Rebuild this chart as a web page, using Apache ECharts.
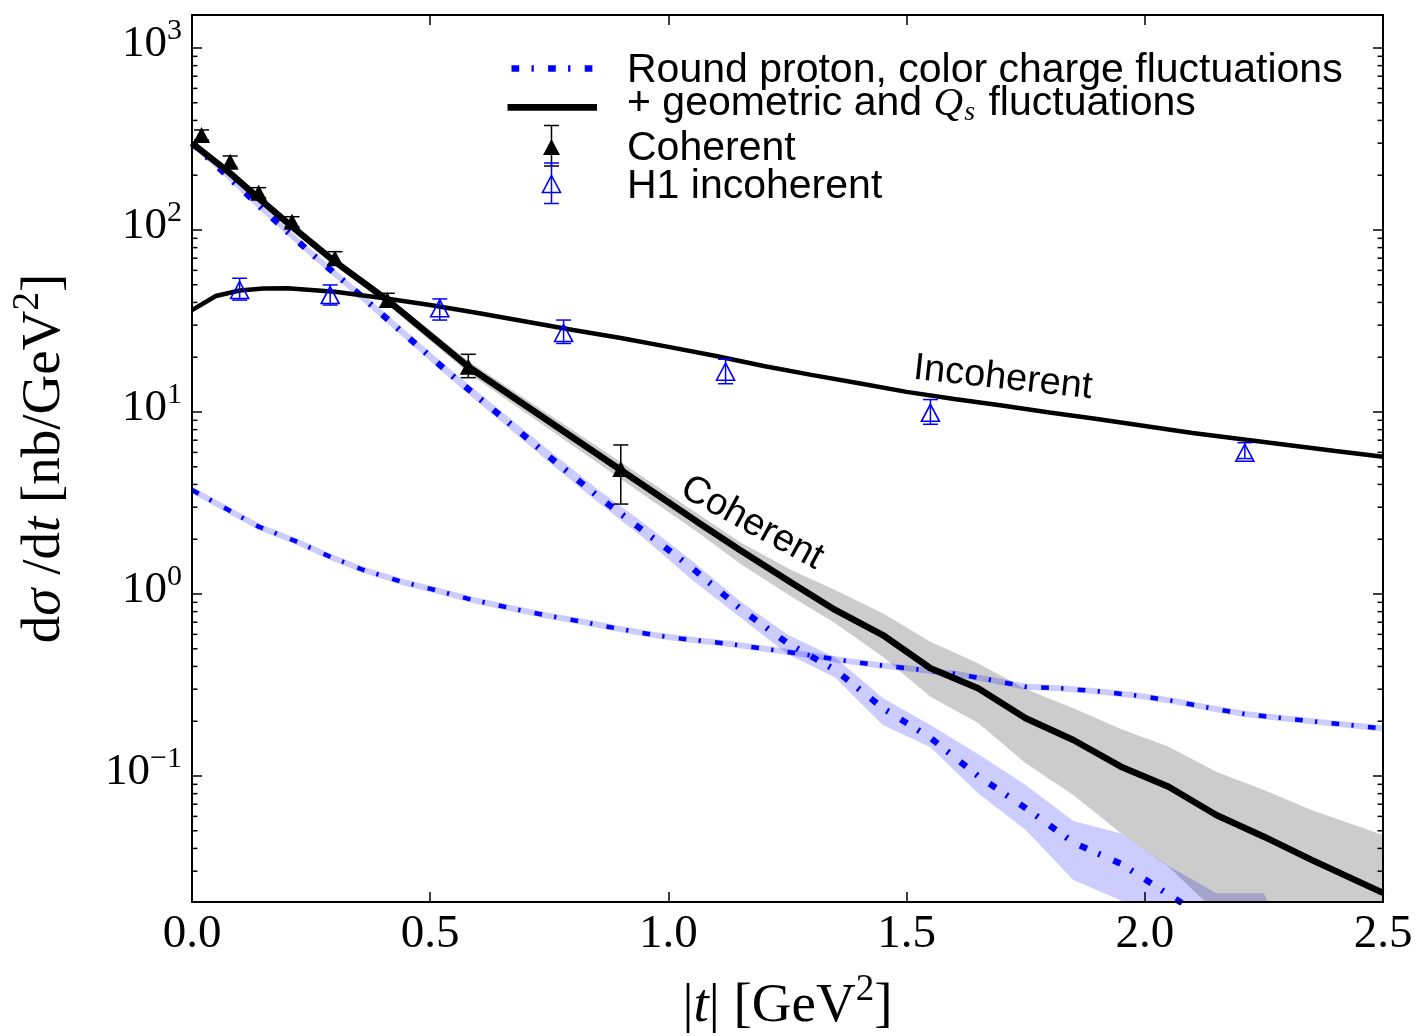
<!DOCTYPE html>
<html><head><meta charset="utf-8">
<script src="https://cdn.jsdelivr.net/npm/echarts@6/dist/echarts.min.js"></script>
<style>html,body{margin:0;padding:0;background:#fff}#c{width:1418px;height:1036px}</style>
</head><body><div id="c"></div>
<script>
// ---------------- data ----------------
const xTickLabels = ['0.0', '0.5', '1.0', '1.5', '2.0', '2.5'];
const yTickExponents = [-1, 0, 1, 2, 3];

// Coherent, geometric + Qs fluctuations (black solid) and its band (gray)
const cohTheoryT = [0, 0.08, 0.14, 0.21, 0.30, 0.41, 0.58, 0.90, 1.06, 1.15, 1.26, 1.35, 1.45, 1.55, 1.65, 1.75, 1.85, 1.95, 2.05, 2.15, 2.25, 2.35, 2.50];
const cohTheory  = [299.5, 204.9, 149.3, 104.3, 66.97, 41.22, 17.74, 4.80, 2.497, 1.745, 1.145, 0.817, 0.595, 0.391, 0.3033, 0.2075, 0.1577, 0.1125, 0.0873, 0.0611, 0.0464, 0.0346, 0.0228];
const cohBandUp  = [308.3, 211.0, 153.8, 107.9, 69.7, 43.4, 19.06, 5.31, 2.776, 1.931, 1.346, 1.052, 0.783, 0.547, 0.416, 0.3006, 0.2355, 0.1813, 0.1449, 0.1056, 0.0838, 0.0650, 0.0474];
const cohBandLo  = [289.4, 198.1, 144.3, 100.6, 64.2, 38.97, 16.38, 4.28, 2.199, 1.469, 0.959, 0.690, 0.452, 0.2727, 0.1956, 0.1174, 0.0786, 0.0484, 0.03175, 0.01789, 0.01107, 0.0071, 0.00402];

// Incoherent, geometric + Qs fluctuations (black solid)
const incT = [0, 0.05, 0.10, 0.15, 0.20, 0.30, 0.40, 0.50, 0.60, 0.70, 0.80, 0.90, 1.00, 1.10, 1.20, 1.30, 1.40, 1.50, 1.60, 1.70, 1.80, 1.90, 2.00, 2.10, 2.20, 2.30, 2.40, 2.50];
const inc  = [36.3, 43.4, 46.5, 47.7, 47.9, 45.8, 42.3, 38.7, 35.0, 31.4, 28.2, 25.5, 22.8, 20.3, 17.9, 16.0, 14.4, 12.9, 11.8, 10.86, 9.94, 9.15, 8.38, 7.67, 7.11, 6.59, 6.11, 5.68];

// Round proton, coherent (blue dash-dot, thick) and its band
const rpCohT = [0, 0.05, 0.15, 0.25, 0.35, 0.45, 0.55, 0.65, 0.75, 0.85, 0.95, 1.05, 1.15, 1.25, 1.35, 1.45, 1.55, 1.65, 1.75, 1.85, 1.95, 2.05, 2.15, 2.25];
const rpCoh  = [300.6, 227.6, 128.8, 74.5, 44.6, 26.2, 15.53, 9.42, 5.68, 3.47, 2.20, 1.39, 0.834, 0.537, 0.383, 0.236, 0.162, 0.100, 0.0667, 0.0431, 0.0329, 0.0223, 0.0152, 0.00975];
const rpBandT  = [0, 0.05, 0.15, 0.25, 0.35, 0.45, 0.55, 0.65, 0.75, 0.85, 0.95, 1.05, 1.15, 1.25, 1.35, 1.45, 1.55, 1.65, 1.75, 1.85, 1.95, 2.05, 2.15, 2.25, 2.28];
const rpBandUp = [312.3, 236.4, 134.6, 78.1, 46.8, 27.7, 16.48, 10.06, 6.14, 3.79, 2.433, 1.518, 0.915, 0.599, 0.448, 0.2683, 0.1906, 0.1321, 0.0892, 0.0566, 0.0483, 0.0320, 0.02267, 0.02267, 0.0152];
const rpBandLo = [285.8, 219.1, 123.2, 71.1, 42.3, 24.9, 14.61, 8.81, 5.28, 3.22, 2.013, 1.194, 0.747, 0.468, 0.3477, 0.1906, 0.1438, 0.0803, 0.0505, 0.0268, 0.0207, 0.01425, 0.00975, 0.00667, 0.006];

// Round proton, incoherent (blue dash-dot, thin)
const rpIncT = [0, 0.07, 0.14, 0.22, 0.29, 0.36, 0.44, 0.51, 0.59, 0.67, 0.75, 0.82, 0.89, 0.97, 1.02, 1.13, 1.21, 1.28, 1.36, 1.44, 1.52, 1.60, 1.67, 1.75, 1.83, 1.91, 1.99, 2.06, 2.14, 2.21, 2.29, 2.37, 2.45, 2.50];
const rpInc  = [3.73, 2.957, 2.343, 1.939, 1.603, 1.355, 1.168, 1.052, 0.927, 0.835, 0.757, 0.704, 0.648, 0.595, 0.571, 0.531, 0.497, 0.468, 0.434, 0.407, 0.386, 0.365, 0.340, 0.3094, 0.3026, 0.2905, 0.2753, 0.2583, 0.2355, 0.2191, 0.2075, 0.1975, 0.1883, 0.1822];

// Coherent data (filled triangles)
const cohDataT  = [0.02, 0.08, 0.14, 0.21, 0.30, 0.41, 0.58, 0.90];
const cohData   = [332.7, 237.3, 160.3, 111.1, 69.9, 41.2, 17.7, 4.86];
const cohDataLo = [312.3, 221.9, 150.5, 104.3, 64.2, 37.9, 15.44, 3.12];
const cohDataHi = [354.4, 255.1, 170.8, 118.3, 76.0, 44.9, 20.75, 6.59];

// H1 incoherent data (open triangles)
const h1T  = [0.10, 0.29, 0.52, 0.78, 1.12, 1.55, 2.21];
const h1   = [46.8, 43.9, 37.2, 27.2, 16.65, 9.9, 5.97];
const h1Lo = [41.2, 38.7, 32.0, 23.8, 14.3, 8.56, 5.55];
const h1Hi = [54.3, 49.9, 41.8, 32.0, 19.5, 11.7, 6.78];

// ---------------- chart ----------------
const SERIF = '"Liberation Serif", "DejaVu Serif", serif';
const SANS = '"Liberation Sans", Arial, sans-serif';
const Y_MIN = 0.02031, Y_MAX = 1518;
const BLUE = '#0000ff';
const DASHDOT = [7.7, 12.3, 2.3, 14.3];

const pairs = (t, v) => t.map((x, i) => [x, v[i]]);

function yLabelFmt(val) {
  const e = Math.log10(val), k = Math.round(e);
  if (Math.abs(e - k) > 1e-6 || yTickExponents.indexOf(k) < 0) return '';
  return '{b|10}{s|' + (k < 0 ? '\u2212' + (-k) : k) + '}';
}

function bandSeries(T, up, lo, fill, z) {
  return {
    type: 'custom', xAxisIndex: 0, yAxisIndex: 0, clip: true, z: z, silent: true,
    data: [[T[0], up[0]]],
    renderItem: function (params, api) {
      const pts = [];
      for (let i = 0; i < T.length; i++) pts.push(api.coord([T[i], up[i]]));
      for (let i = T.length - 1; i >= 0; i--) pts.push(api.coord([T[i], lo[i]]));
      return { type: 'polygon', shape: { points: pts }, style: { fill: fill } };
    }
  };
}

function errSeries(T, lo, hi, color, z) {
  return {
    type: 'custom', xAxisIndex: 0, yAxisIndex: 0, clip: false, z: z, silent: true,
    data: T.map((t, i) => [t, lo[i], hi[i]]),
    encode: { x: 0, y: [1, 2] },
    renderItem: function (params, api) {
      const t = api.value(0);
      const a = api.coord([t, api.value(2)]);
      const b = api.coord([t, api.value(1)]);
      const w = 7.5, st = { stroke: color, lineWidth: 1.5 };
      return { type: 'group', children: [
        { type: 'line', shape: { x1: a[0], y1: a[1], x2: b[0], y2: b[1] }, style: st },
        { type: 'line', shape: { x1: a[0] - w, y1: a[1], x2: a[0] + w, y2: a[1] }, style: st },
        { type: 'line', shape: { x1: b[0] - w, y1: b[1], x2: b[0] + w, y2: b[1] }, style: st }
      ] };
    }
  };
}

const minorVals = [];
for (let k = -2; k <= 3; k++) for (let m = 2; m <= 9; m++) {
  const v = m * Math.pow(10, k);
  if (v > Y_MIN && v < Y_MAX) minorVals.push(v);
}

const axisLineStyle = { show: true, onZero: false, lineStyle: { color: '#000', width: 2 } };
const majorTick = { show: true, inside: true, length: 10, lineStyle: { color: '#000', width: 1.5 } };

const yRich = {
  b: { fontFamily: SERIF, fontSize: 45, color: '#000', padding: [0, 0, 8, 0] },
  s: { fontFamily: SERIF, fontSize: 30, color: '#000', padding: [0, 0, 34, 0] }
};
const TFS = 55;
const titleRich = {
  r: { fontFamily: SERIF, fontSize: TFS, color: '#000' },
  i: { fontFamily: SERIF, fontSize: TFS, fontStyle: 'italic', color: '#000' },
  s: { fontFamily: SERIF, fontSize: 37, color: '#000', padding: [0, 0, 33, 0] }
};
const LFS = 41;

const option = {
  animation: false,
  backgroundColor: '#fff',
  textStyle: { fontFamily: SANS },
  grid: { left: 192, top: 15, width: 1191, height: 887, containLabel: false, outerBoundsMode: 'none' },
  xAxis: [
    {
      type: 'value', min: 0, max: 2.5, interval: 0.5, position: 'bottom', z: 10,
      axisLine: axisLineStyle, axisTick: majorTick, splitLine: { show: false },
      axisLabel: { margin: 9, color: '#000', fontFamily: SERIF, fontSize: 47, lineHeight: 47,
        formatter: v => xTickLabels[Math.round(v / 0.5)] || '' },
      name: '{r||}{i|t}{r|| [GeV}{s|2}{r|]}', nameLocation: 'middle', nameGap: 70,
      nameTextStyle: { color: '#000', fontFamily: SERIF, fontSize: TFS, rich: titleRich }
    },
    {
      type: 'value', min: 0, max: 2.5, interval: 0.5, position: 'top', z: 10,
      axisLine: axisLineStyle, axisTick: majorTick, splitLine: { show: false }, axisLabel: { show: false }
    }
  ],
  yAxis: [
    {
      type: 'log', logBase: 10, min: Y_MIN, max: Y_MAX, position: 'left', z: 10,
      axisLine: axisLineStyle, axisTick: majorTick, splitLine: { show: false }, minorTick: { show: false },
      axisLabel: { margin: 10, color: '#000', fontFamily: SERIF, fontSize: 45, formatter: yLabelFmt, rich: yRich,
        showMinLabel: true, showMaxLabel: true },
      name: '{r|d}{i|\u03c3}{r| /d}{i|t}{r| [nb/GeV}{s|2}{r|]}', nameLocation: 'middle', nameGap: 112, nameRotate: 90,
      nameTextStyle: { color: '#000', fontFamily: SERIF, fontSize: TFS, rich: titleRich }
    },
    {
      type: 'log', logBase: 10, min: Y_MIN, max: Y_MAX, position: 'right', z: 10,
      axisLine: axisLineStyle, axisTick: majorTick, splitLine: { show: false }, axisLabel: { show: false }
    }
  ],
  series: [
    bandSeries(rpBandT, rpBandUp, rpBandLo, 'rgba(0,0,255,0.2)', 1),
    bandSeries(cohTheoryT, cohBandUp, cohBandLo, 'rgba(0,0,0,0.2)', 1),
    { type: 'line', name: 'rpIncBand', data: pairs(rpIncT, rpInc), symbol: 'none', silent: true, z: 2,
      lineStyle: { color: 'rgba(0,0,255,0.2)', width: 6 } },
    { type: 'line', name: 'Round proton incoherent', data: pairs(rpIncT, rpInc), symbol: 'none', silent: true, z: 3,
      lineStyle: { color: BLUE, width: 4.5, type: DASHDOT, cap: 'butt' } },
    { type: 'line', name: 'Round proton coherent', data: pairs(rpCohT, rpCoh), symbol: 'none', silent: true, z: 3,
      lineStyle: { color: BLUE, width: 6.3, type: DASHDOT, cap: 'butt' } },
    { type: 'line', name: 'Incoherent', data: pairs(incT, inc), symbol: 'none', silent: true, z: 4,
      lineStyle: { color: '#000', width: 4.5 } },
    { type: 'line', name: 'Coherent', data: pairs(cohTheoryT, cohTheory), symbol: 'none', silent: true, z: 4,
      lineStyle: { color: '#000', width: 6.5 } },
    errSeries(cohDataT, cohDataLo, cohDataHi, '#000', 5),
    errSeries(h1T, h1Lo, h1Hi, BLUE, 5),
    { type: 'scatter', data: pairs(cohDataT, cohData), symbol: 'triangle', symbolSize: [17, 16], silent: true, z: 6,
      itemStyle: { color: '#000', opacity: 1 } },
    { type: 'scatter', data: pairs(h1T, h1), symbol: 'triangle', symbolSize: [18, 17], silent: true, z: 6,
      itemStyle: { color: 'rgba(0,0,0,0)', borderColor: BLUE, borderWidth: 1.6, opacity: 1 } },
    {
      type: 'custom', data: minorVals.map(v => [0, v]), clip: false, z: 8, silent: true,
      renderItem: function (params, api) {
        const y = api.coord([0, api.value(1)])[1];
        const cs = params.coordSys, L = 5.5, st = { stroke: '#000', lineWidth: 1.5 };
        return { type: 'group', children: [
          { type: 'line', shape: { x1: cs.x, y1: y, x2: cs.x + L, y2: y }, style: st },
          { type: 'line', shape: { x1: cs.x + cs.width - L, y1: y, x2: cs.x + cs.width, y2: y }, style: st }
        ] };
      }
    }
  ],
  graphic: [
    { type: 'line', shape: { x1: 511.5, y1: 68.5, x2: 594, y2: 68.5 },
      style: { stroke: BLUE, lineWidth: 6.3, lineDash: DASHDOT, lineCap: 'butt' } },
    { type: 'line', shape: { x1: 507.5, y1: 107.3, x2: 597, y2: 107.3 }, style: { stroke: '#000', lineWidth: 6.7 } },
    { type: 'line', shape: { x1: 551.5, y1: 125.5, x2: 551.5, y2: 166 }, style: { stroke: '#000', lineWidth: 1.5 } },
    { type: 'line', shape: { x1: 544, y1: 125.5, x2: 559, y2: 125.5 }, style: { stroke: '#000', lineWidth: 1.5 } },
    { type: 'line', shape: { x1: 544, y1: 166, x2: 559, y2: 166 }, style: { stroke: '#000', lineWidth: 1.5 } },
    { type: 'polygon', shape: { points: [[551.5, 139], [560, 155], [543, 155]] }, style: { fill: '#000' } },
    { type: 'line', shape: { x1: 551.5, y1: 163, x2: 551.5, y2: 203.5 }, style: { stroke: BLUE, lineWidth: 1.5 } },
    { type: 'line', shape: { x1: 544, y1: 163, x2: 559, y2: 163 }, style: { stroke: BLUE, lineWidth: 1.5 } },
    { type: 'line', shape: { x1: 544, y1: 203.5, x2: 559, y2: 203.5 }, style: { stroke: BLUE, lineWidth: 1.5 } },
    { type: 'polygon', shape: { points: [[551.5, 175.5], [560.5, 192.5], [542.5, 192.5]] },
      style: { fill: 'rgba(0,0,0,0)', stroke: BLUE, lineWidth: 1.6 } },
    { type: 'text', x: 627, y: 71, style: { text: 'Round proton, color charge fluctuations', fill: '#000',
      fontFamily: SANS, fontSize: LFS, align: 'left', verticalAlign: 'middle', textAlign: 'left', textVerticalAlign: 'middle' } },
    { type: 'text', x: 627, y: 104, style: { text: '{a|+ geometric and }{q|Q}{u|s}{a| fluctuations}', fill: '#000',
      fontFamily: SANS, fontSize: LFS, align: 'left', verticalAlign: 'middle', textAlign: 'left', textVerticalAlign: 'middle',
      rich: {
        a: { fontFamily: SANS, fontSize: LFS, fill: '#000', color: '#000' },
        q: { fontFamily: SERIF, fontSize: LFS, fontStyle: 'italic', fill: '#000', color: '#000' },
        u: { fontFamily: SERIF, fontSize: 28, fontStyle: 'italic', fill: '#000', color: '#000', padding: [18, 2, 0, 1] }
      } } },
    { type: 'text', x: 627, y: 148.5, style: { text: 'Coherent', fill: '#000',
      fontFamily: SANS, fontSize: LFS, align: 'left', verticalAlign: 'middle', textAlign: 'left', textVerticalAlign: 'middle' } },
    { type: 'text', x: 627, y: 186.5, style: { text: 'H1 incoherent', fill: '#000',
      fontFamily: SANS, fontSize: LFS, align: 'left', verticalAlign: 'middle', textAlign: 'left', textVerticalAlign: 'middle' } },
    { type: 'text', x: 1003, y: 378, rotation: -0.11, style: { text: 'Incoherent', fill: '#000',
      fontFamily: SANS, fontSize: 38, align: 'center', verticalAlign: 'middle', textAlign: 'center', textVerticalAlign: 'middle' } },
    { type: 'text', x: 752, y: 523, rotation: -0.50, style: { text: 'Coherent', fill: '#000',
      fontFamily: SANS, fontSize: 38, align: 'center', verticalAlign: 'middle', textAlign: 'center', textVerticalAlign: 'middle' } }
  ]
};

const chart = echarts.init(document.getElementById('c'), null, { renderer: 'canvas', width: 1418, height: 1036 });
chart.setOption(option);
</script></body></html>
